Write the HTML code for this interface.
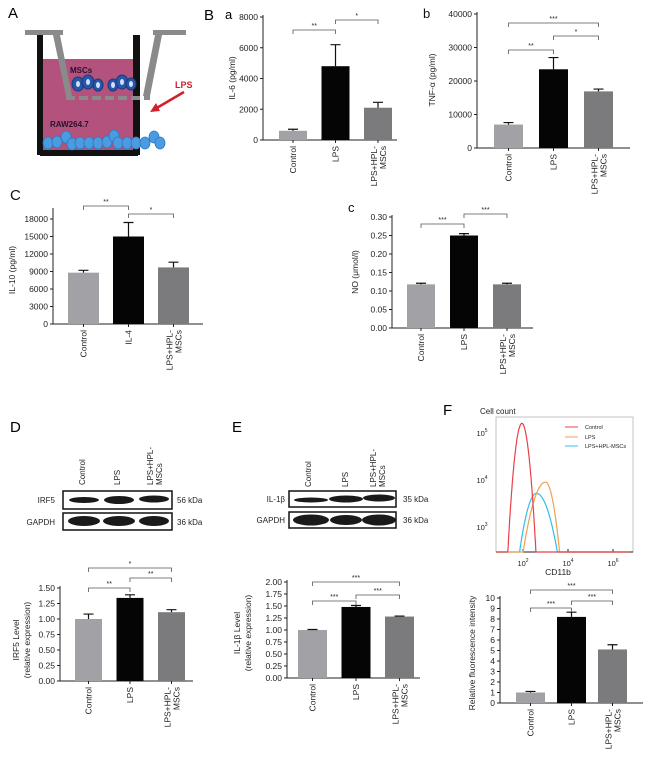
<!DOCTYPE html>
<html><head><meta charset="utf-8"><style>
html,body{margin:0;padding:0;background:#fff;}
svg{display:block;font-family:"Liberation Sans",sans-serif;}
</style></head><body>
<svg id="fig" width="650" height="758" viewBox="0 0 650 758" xmlns="http://www.w3.org/2000/svg">
<g id="schematic">
  <text x="8" y="18" font-size="15">A</text>
  <rect x="43" y="59" width="90" height="91" fill="#b3527c"/>
  <rect x="37" y="35" width="6" height="120" fill="#111"/>
  <rect x="133" y="35" width="7" height="120" fill="#111"/>
  <rect x="40" y="150" width="98" height="6" fill="#111"/>
  <rect x="25" y="30" width="38" height="5" fill="#8a8a8a"/>
  <rect x="153" y="30" width="33" height="5" fill="#8a8a8a"/>
  <polygon points="53,35 60,35 72,96 66,96" fill="#8a8a8a"/>
  <polygon points="155,35 162,35 150,96 143,96" fill="#8a8a8a"/>
  <path d="M66 98 H150" stroke="#8a8a8a" stroke-width="4" stroke-dasharray="9,4"/>
  <text x="70" y="73" font-size="8" font-weight="bold" fill="#2a1030">MSCs</text>
  <g fill="#2a56a8" stroke="#1a3a80" stroke-width="1">
    <ellipse cx="78" cy="84" rx="6" ry="7"/><ellipse cx="88" cy="82" rx="6" ry="7"/><ellipse cx="98" cy="85" rx="5" ry="6"/>
    <ellipse cx="113" cy="85" rx="5" ry="6"/><ellipse cx="122" cy="82" rx="6" ry="7"/><ellipse cx="131" cy="84" rx="5" ry="6"/>
  </g>
  <g fill="#cfe2ff"><ellipse cx="78" cy="84" rx="2" ry="3"/><ellipse cx="88" cy="82" rx="2" ry="3"/><ellipse cx="98" cy="85" rx="2" ry="3"/><ellipse cx="113" cy="85" rx="2" ry="3"/><ellipse cx="122" cy="82" rx="2" ry="3"/><ellipse cx="131" cy="84" rx="2" ry="3"/></g>
  <text x="50" y="127" font-size="8" font-weight="bold" fill="#2a1030">RAW264.7</text>
  <g fill="#4a9be0" stroke="#2f78c0" stroke-width="0.8">
    <ellipse cx="48" cy="143" rx="5" ry="6"/><ellipse cx="57" cy="142" rx="5" ry="6"/><ellipse cx="66" cy="137" rx="5" ry="6"/><ellipse cx="72" cy="144" rx="5" ry="6"/><ellipse cx="80" cy="143" rx="5" ry="6"/><ellipse cx="89" cy="143" rx="5" ry="6"/><ellipse cx="98" cy="143" rx="5" ry="6"/><ellipse cx="107" cy="142" rx="5" ry="6"/><ellipse cx="114" cy="136" rx="5" ry="6"/><ellipse cx="118" cy="143" rx="5" ry="6"/><ellipse cx="127" cy="143" rx="5" ry="6"/><ellipse cx="136" cy="143" rx="5" ry="6"/><ellipse cx="145" cy="143" rx="5" ry="6"/><ellipse cx="154" cy="137" rx="5" ry="6"/><ellipse cx="160" cy="143" rx="5" ry="6"/>
  </g>
  <text x="175" y="88" font-size="9" font-weight="bold" fill="#d0202a">LPS</text>
  <line x1="184" y1="92" x2="155" y2="109" stroke="#d0202a" stroke-width="2.5"/>
  <polygon points="150,112 156,103 160,111" fill="#d0202a"/>
</g>

<g id="blots">
  <text x="10" y="432" font-size="15">D</text>
  <text x="232" y="432" font-size="15">E</text>
  <text x="443" y="415" font-size="15">F</text>
  <g font-size="8" fill="#222">
    <text transform="translate(85,485) rotate(-90)">Control</text>
    <text transform="translate(120,485) rotate(-90)">LPS</text>
    <text transform="translate(153,485) rotate(-90)">LPS+HPL-</text>
    <text transform="translate(162,485) rotate(-90)">MSCs</text>
    <text x="55" y="503" text-anchor="end">IRF5</text>
    <text x="55" y="525" text-anchor="end">GAPDH</text>
    <text x="177" y="503">56 kDa</text>
    <text x="177" y="525">36 kDa</text>
    <text transform="translate(311,487) rotate(-90)">Control</text>
    <text transform="translate(348,487) rotate(-90)">LPS</text>
    <text transform="translate(376,487) rotate(-90)">LPS+HPL-</text>
    <text transform="translate(385,487) rotate(-90)">MSCs</text>
    <text x="285" y="502" text-anchor="end">IL-1β</text>
    <text x="285" y="523" text-anchor="end">GAPDH</text>
    <text x="403" y="502">35 kDa</text>
    <text x="403" y="523">36 kDa</text>
  </g>
  <g stroke="#111" stroke-width="1.5" fill="#fff">
    <rect x="63" y="491" width="109" height="18"/>
    <rect x="63" y="513" width="109" height="17"/>
    <rect x="289" y="491" width="107" height="16"/>
    <rect x="289" y="512" width="107" height="16"/>
  </g>
  <g fill="#1a1a1a">
    <ellipse cx="84" cy="500" rx="15" ry="3"/><ellipse cx="119" cy="500" rx="15" ry="4"/><ellipse cx="154" cy="499" rx="15" ry="3.5"/>
    <ellipse cx="84" cy="521" rx="16" ry="5"/><ellipse cx="119" cy="521" rx="16" ry="5"/><ellipse cx="154" cy="521" rx="15" ry="5"/>
    <ellipse cx="311" cy="500" rx="17" ry="2.5"/><ellipse cx="346" cy="499" rx="17" ry="3.5"/><ellipse cx="379" cy="498" rx="16" ry="3.5"/>
    <ellipse cx="311" cy="520" rx="18" ry="5.5"/><ellipse cx="346" cy="520" rx="16" ry="5"/><ellipse cx="379" cy="520" rx="17" ry="5.5"/>
  </g>
</g>

<g id="flow">
  <text x="480" y="414" font-size="8" fill="#222">Cell count</text>
  <rect x="496" y="417" width="137" height="135" fill="none" stroke="#aaa" stroke-width="0.7"/>
  <line x1="496" y1="552" x2="633" y2="552" stroke="#222" stroke-width="1"/>
  <g id="flowticks" font-size="7.5" fill="#222"></g>
  <text x="558" y="575" font-size="8.5" text-anchor="middle" fill="#222">CD11b</text>
  <g id="flowcurves"></g>
  <g font-size="5.5" fill="#222">
    <line x1="565" y1="427" x2="578" y2="427" stroke="#e8404a"/><text x="585" y="429">Control</text>
    <line x1="565" y1="437" x2="578" y2="437" stroke="#f0a050"/><text x="585" y="439">LPS</text>
    <line x1="565" y1="446" x2="578" y2="446" stroke="#30c0e8"/><text x="585" y="448">LPS+HPL-MSCs</text>
  </g>
</g>

<g id="charts"></g>
</svg>
<script>
const NS='http://www.w3.org/2000/svg';
function mk(tag,attrs,parent){const e=document.createElementNS(NS,tag);for(const k in attrs)e.setAttribute(k,attrs[k]);parent.appendChild(e);return e;}
const barColors=['#a2a2a6','#050505','#7b7b7d'];

// ---- data ----
const catsLPS=['Control','LPS','LPS+HPL-MSCs'];
const catsIL4=['Control','IL-4','LPS+HPL-MSCs'];
const il6Vals=[600,4800,2100];
const il6Errs=[700,6200,2450];
const il6Ticks=[0,2000,4000,6000,8000];
const tnfVals=[7000,23500,16900];
const tnfErrs=[7600,27000,17600];
const tnfTicks=[0,10000,20000,30000,40000];
const il10Vals=[8800,15000,9700];
const il10Errs=[9200,17400,10600];
const il10Ticks=[0,3000,6000,9000,12000,15000,18000];
const noVals=[0.118,0.25,0.118];
const noErrs=[0.121,0.255,0.121];
const noTicks=[0,0.05,0.10,0.15,0.20,0.25,0.30];
const irf5Vals=[1.0,1.34,1.11];
const irf5Errs=[1.08,1.39,1.15];
const irf5Ticks=[0,0.25,0.5,0.75,1.0,1.25,1.5];
const il1bVals=[1.0,1.48,1.28];
const il1bErrs=[1.01,1.51,1.29];
const il1bTicks=[0,0.25,0.5,0.75,1.0,1.25,1.5,1.75,2.0];
const mfiVals=[1.0,8.2,5.1];
const mfiErrs=[1.1,8.65,5.55];
const mfiTicks=[0,1,2,3,4,5,6,7,8,9,10];
const il6Sig=[[0,1,'**'],[1,2,'*']];
const tnfSig=[[0,2,'***'],[0,1,'**'],[1,2,'*']];
const il10Sig=[[0,1,'**'],[1,2,'*']];
const noSig=[[0,1,'***'],[1,2,'***']];
const irf5Sig=[[0,2,'*'],[0,1,'**'],[1,2,'**']];
const il1bSig=[[0,2,'***'],[0,1,'***'],[1,2,'***']];
const mfiSig=[[0,2,'***'],[0,1,'***'],[1,2,'***']];

function chart(o){
  const root=document.getElementById('charts');
  const g=mk('g',{},root);
  
  
  const ymax=o.ticks[o.ticks.length-1];
  const y=v=>o.base-(v/ymax)*(o.base-o.top);
  const x=i=>o.x0+i*o.step;
  mk('line',{x1:o.ax,y1:o.axTop||o.top-2,x2:o.ax,y2:o.base,stroke:'#222','stroke-width':1},g);
  mk('line',{x1:o.ax,y1:o.base,x2:o.axEnd,y2:o.base,stroke:'#222','stroke-width':1},g);
  o.ticks.forEach(t=>{
    mk('line',{x1:o.ax-3,y1:y(t),x2:o.ax,y2:y(t),stroke:'#222'},g);
    const tx=mk('text',{x:o.ax-5,y:y(t)+3,'font-size':o.fs||8.5,'text-anchor':'end',fill:'#222'},g);
    tx.textContent=o.fmt?o.fmt(t):String(t);
    
    
  });
  o.vals.forEach((v,i)=>{
    const r=mk('rect',{x:x(i)-o.bw/2,y:y(v),width:o.bw,height:o.base-y(v),fill:barColors[i]},g);
    
    
    const e=mk('path',{d:`M${x(i)} ${y(v)} V${y(o.errs[i])} M${x(i)-5} ${y(o.errs[i])} H${x(i)+5}`,stroke:'#111','stroke-width':1.2,fill:'none'},g);
    
    
    mk('line',{x1:x(i),y1:o.base,x2:x(i),y2:o.base+3,stroke:'#222'},g);
    const c=o.cats[i];
    if(c==='LPS+HPL-MSCs'){
      const a=mk('text',{transform:`translate(${x(i)-1},${o.base+6}) rotate(-90)`,'font-size':8.5,'text-anchor':'end',fill:'#222'},g);a.textContent='LPS+HPL-';
      
      
      const b=mk('text',{transform:`translate(${x(i)+8},${o.base+6}) rotate(-90)`,'font-size':8.5,'text-anchor':'end',fill:'#222'},g);b.textContent='MSCs';
    } else {
      const a=mk('text',{transform:`translate(${x(i)+3},${o.base+6}) rotate(-90)`,'font-size':8.5,'text-anchor':'end',fill:'#222'},g);a.textContent=c;
      
      
    }
  });
  o.sig.forEach((s,k)=>{
    const sy=o.sigY[k];
    const p=mk('path',{d:`M${x(s[0])} ${sy+4} V${sy} H${x(s[1])} V${sy+4}`,stroke:'#555','stroke-width':0.8,fill:'none'},g);
    
    
    const t=mk('text',{x:(x(s[0])+x(s[1]))/2,y:sy-2,'font-size':7,'text-anchor':'middle',fill:'#222'},g);t.textContent=s[2];
  });
  o.title.forEach((tl,k)=>{
    const t=mk('text',{transform:`translate(${o.tx+k*11},${o.ty}) rotate(-90)`,'font-size':8.5,'text-anchor':'middle',fill:'#222'},g);t.textContent=tl;
    
    
  });
  if(o.label){const t=mk('text',{x:o.lx,y:o.ly,'font-size':o.lfs||13,fill:'#111'},g);t.textContent=o.label;}
}
const f2=t=>t.toFixed(2);
chart({name:'il6-chart',cats:catsLPS,vals:il6Vals,errs:il6Errs,ticks:il6Ticks,sig:il6Sig,sigY:[30,20],ax:263,axEnd:397,top:17,base:140,x0:293,step:42.5,bw:28,title:['IL-6 (pg/ml)'],tx:235,ty:78});
chart({name:'tnf-chart',cats:catsLPS,vals:tnfVals,errs:tnfErrs,ticks:tnfTicks,sig:tnfSig,sigY:[23,50,36],ax:477,axEnd:630,top:14,base:148,x0:508.5,step:45,bw:29,title:['TNF-α (pg/ml)'],tx:435,ty:80,label:'b',lx:423,ly:18});
chart({name:'il10-chart',cats:catsIL4,vals:il10Vals,errs:il10Errs,ticks:il10Ticks,sig:il10Sig,sigY:[206,214],ax:53,axTop:208,axEnd:203,top:219,base:324,x0:83.5,step:45,bw:31,title:['IL-10 (pg/ml)'],tx:15,ty:270,label:'C',lx:10,ly:200,lfs:15});
chart({name:'no-chart',cats:catsLPS,vals:noVals,errs:noErrs,ticks:noTicks,sig:noSig,sigY:[224,214],ax:392,axEnd:533,top:217,base:328,x0:421,step:43,bw:28,fmt:f2,title:['NO (μmol/l)'],tx:358,ty:272,label:'c',lx:348,ly:212});
chart({name:'irf5-chart',cats:catsLPS,vals:irf5Vals,errs:irf5Errs,ticks:irf5Ticks,sig:irf5Sig,sigY:[568,588,578],ax:60,axEnd:193,top:588,base:681,x0:88.5,step:41.5,bw:27,fmt:f2,title:['IRF5 Level','(relative expression)'],tx:19,ty:640});
chart({name:'il1b-chart',cats:catsLPS,vals:il1bVals,errs:il1bErrs,ticks:il1bTicks,sig:il1bSig,sigY:[582,601,595],ax:287,axEnd:420,top:582,base:678,x0:312.5,step:43.5,bw:29,fmt:f2,title:['IL-1β Level','(relative expression)'],tx:240,ty:633});
chart({name:'mfi-chart',cats:catsLPS,vals:mfiVals,errs:mfiErrs,ticks:mfiTicks,sig:mfiSig,sigY:[590,608,601],ax:500,axEnd:643,top:598,base:703,x0:530.5,step:41,bw:29,title:['Relative fluorescence intensity'],tx:475,ty:653});
document.querySelector('#charts').insertAdjacentHTML('afterbegin','<text x="204" y="20" font-size="15">B</text><text x="225" y="19" font-size="13">a</text>');

// flow histogram
const flowXDecades=[2,4,6];
const flowYDecades=[3,4,5];
const ctrlPeakLog=1.95, ctrlPeakCount=160000;
const lpsPeakLog=3.0, lpsPeakCount=9000;
const hplPeakLog=2.6, hplPeakCount=5200;
const fx=l=>523+(l-2)*22.5;
const fy=c=>527-(Math.log10(c)-3)*47;
const ft=document.getElementById('flowticks');
flowXDecades.forEach(d=>{const t=mk('text',{x:fx(d),y:566,'text-anchor':'middle'},ft);t.innerHTML='10<tspan dy="-4" font-size="5">'+d+'</tspan>';mk('line',{x1:fx(d),y1:552,x2:fx(d),y2:549,stroke:'#222'},ft);});
flowYDecades.forEach(d=>{const t=mk('text',{x:482,y:fy(Math.pow(10,d))+3,'text-anchor':'middle'},ft);t.innerHTML='10<tspan dy="-4" font-size="5">'+d+'</tspan>';});
const fc=document.getElementById('flowcurves');
function peak(pl,pc,kL,kR,col,name){
  let d='';
  for(let l=0.8;l<=6.7;l+=0.01){
    const dl=l-pl;const k=dl<0?kL:kR;
    const lc=Math.log10(pc)-k*dl*dl;
    let yy=Math.min(552,fy(Math.pow(10,lc)));
    d+=(d?'L':'M')+fx(l).toFixed(1)+' '+yy.toFixed(1);
  }
  const p=mk('path',{d:d,stroke:col,'stroke-width':1.2,fill:'none'},fc);
  
  
}
peak(hplPeakLog,hplPeakCount,2.2,1.45,'#30c0e8','histogram-lps-hpl-mscs');
peak(lpsPeakLog,lpsPeakCount,1.5,3.8,'#f0a050','histogram-lps');
peak(ctrlPeakLog,ctrlPeakCount,7,7,'#e8404a','histogram-control');
</script>
</body></html>
